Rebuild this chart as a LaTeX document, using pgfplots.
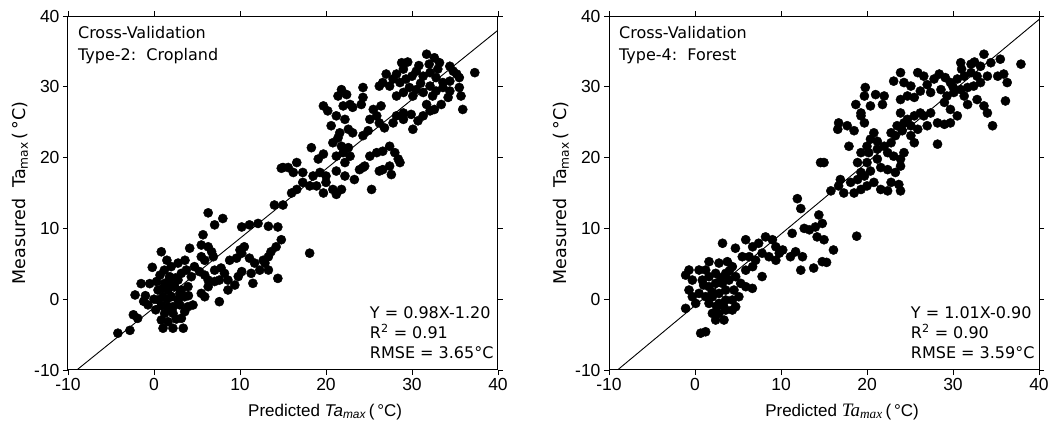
\documentclass[border=0pt]{standalone}
\usepackage{pgfplots}
\pgfplotsset{compat=1.18}
\usepackage{pgfplotstable}
\usepackage{fontspec}
\setmainfont{Liberation Sans}
\newfontfamily\seriffont{Liberation Serif}
\newfontfamily\dejavu{DejaVu Sans}

\pgfplotstableread{
x y
-4.2 -4.8
-2.8 -4.4
-2.4 -2.2
-1.9 -2.7
-2.2 0.6
-1.5 2.2
-0.5 2.2
-0.7 -0.8
0.5 -0.1
0.7 3.4
1.2 4.1
2.0 4.6
2.8 5.1
3.6 5.5
0.47 1.29
1.24 2.24
1.63 1.29
1.05 0.35
2.02 0.35
2.40 1.77
2.79 2.71
3.18 3.65
1.82 3.18
2.21 -1.06
1.63 -1.06
2.79 -0.12
3.57 0.35
3.18 1.29
3.95 1.77
4.34 3.18
3.76 4.12
1.24 -2.0
2.21 -2.0
0.85 -2.94
1.63 -3.18
3.18 -2.7
3.95 -1.06
4.53 -0.82
3.57 -1.76
1.05 -4.1
2.2 -4.1
3.4 -4.1
0.85 6.7
4.15 7.2
5.5 7.65
6.3 7.4
6.7 6.7
5.5 6.0
5.9 5.5
6.9 6.0
5.7 9.1
6.3 12.2
7.05 10.5
8.0 11.4
4.7 4.6
5.3 3.9
5.9 3.4
6.3 2.7
7.05 4.1
7.8 4.4
8.2 3.65
7.05 2.5
6.3 1.77
5.5 0.82
5.9 0.35
7.6 2.7
8.6 2.7
7.6 -0.35
8.6 1.3
9.4 2.0
9.8 3.2
10.2 3.9
8.8 5.5
9.6 5.8
10.2 10.2
11.1 10.5
12.1 10.7
13.3 10.3
14.4 10.2
10.0 6.95
10.5 7.4
10.2 6.5
11.1 5.8
11.7 5.1
12.3 4.1
12.9 5.1
13.3 6.0
13.6 6.7
14.2 7.4
14.8 8.4
15.0 13.3
14.0 13.3
11.3 3.65
11.5 2.24
13.3 4.12
14.4 2.94
12.7 5.5
0.0 0.0
0.3 2.5
1.5 0.0
2.5 3.0
1.0 1.5
2.0 2.0
3.0 0.8
0.2 -1.5
-1.0 0.5
-0.2 4.5
1.5 5.5
3.0 -0.8
4.0 0.5
2.6 -2.8
0.9 -0.9
2.0 -1.5
1.8 2.8
-1.2 -0.3
18.1 6.5
14.8 18.5
31.7 34.6
32.6 34.1
33.2 33.4
28.8 33.4
29.0 32.5
30.5 32.2
28.2 31.8
26.6 30.6
26.2 30.1
27.4 30.1
27.8 31.1
28.6 30.6
29.3 31.1
29.7 29.9
29.0 29.2
28.2 28.7
31.3 31.5
32.1 32.0
32.8 31.3
33.6 30.6
34.4 30.8
35.2 31.8
34.4 32.9
34.8 32.2
35.5 31.3
37.3 32.0
32.1 30.1
32.8 29.4
33.6 29.9
34.4 29.4
31.3 29.2
32.4 28.7
30.5 29.6
30.1 28.7
35.5 29.9
35.7 28.7
34.2 28.5
33.4 27.5
32.6 26.8
32.1 26.6
31.3 25.9
30.7 25.2
30.1 24.0
35.9 26.8
31.7 27.5
29.9 26.1
29.0 25.4
24.3 29.9
21.8 29.6
21.4 28.7
22.4 28.9
22.8 27.5
19.7 27.3
20.2 26.6
22.0 27.3
23.1 27.1
24.1 27.5
24.3 28.5
21.2 25.9
22.2 25.4
20.6 24.5
21.6 23.5
22.6 24.0
23.1 23.5
25.5 26.8
26.4 27.3
25.9 25.9
25.1 25.4
26.2 24.9
26.8 24.2
24.9 23.8
24.3 23.1
28.2 25.9
29.0 26.3
27.8 24.9
21.4 22.8
20.8 22.1
21.8 21.6
22.6 21.4
22.0 20.7
21.2 20.2
22.8 20.2
22.2 19.3
18.3 21.4
19.1 19.8
19.7 20.5
16.6 19.3
15.6 18.6
16.2 17.9
17.3 17.9
18.5 17.4
19.3 17.9
20.0 17.4
21.2 18.1
22.2 17.4
17.3 16.5
18.1 16.0
16.6 15.5
16.0 15.0
18.9 16.0
20.0 16.5
20.8 15.5
21.8 15.5
19.7 15.0
21.2 14.8
23.3 16.9
23.9 18.3
24.5 18.8
25.1 20.2
25.9 20.7
26.6 20.9
27.4 21.6
28.0 20.7
28.4 19.8
28.6 19.3
27.4 18.8
26.6 18.3
26.2 18.1
27.6 17.6
25.3 15.5
24.3 18.6
15.0 18.6
30.0 31.5
31.0 30.5
30.8 33.0
33.0 32.5
29.5 33.5
27.0 31.8
32.0 33.2
}\cropdata

\pgfplotstableread{
x y
33.6 34.6
30.9 33.4
32.1 33.2
33.2 32.9
34.4 33.4
35.5 33.9
37.9 33.2
36.3 30.6
35.2 31.5
35.9 31.8
36.1 28.0
34.6 24.5
34.0 26.3
33.6 27.3
32.8 28.2
31.7 27.5
31.3 28.7
29.7 30.6
30.5 31.1
31.3 31.5
32.1 32.0
32.8 31.5
33.2 30.6
32.4 30.1
31.7 29.9
30.9 29.6
30.1 29.2
29.3 28.7
28.6 29.6
29.1 31.3
28.4 31.8
27.8 31.1
26.6 31.5
25.9 32.0
27.0 30.3
26.2 29.4
27.4 29.2
29.0 27.8
29.7 26.8
30.5 25.9
23.9 32.0
23.1 30.8
24.3 30.6
25.1 30.1
24.7 28.7
23.9 28.2
25.5 28.5
19.8 29.9
19.7 28.7
21.0 28.9
22.0 28.7
21.8 27.5
20.4 27.3
19.3 26.3
18.7 27.5
19.3 25.9
16.7 24.9
16.6 24.0
17.7 24.5
18.5 23.8
19.7 24.9
23.9 26.3
24.7 25.4
25.5 25.9
26.2 26.3
26.6 25.9
27.4 26.3
28.2 24.9
27.0 24.5
25.9 24.0
25.1 24.5
24.3 24.9
23.5 24.5
24.1 23.8
25.1 23.1
23.3 23.1
22.8 23.5
29.0 24.7
29.7 24.9
28.2 21.9
25.5 22.1
24.3 20.7
20.8 23.5
20.4 22.6
21.2 22.3
20.0 21.6
19.3 20.7
20.2 20.7
21.2 21.2
22.0 21.6
22.8 22.1
22.4 20.7
23.1 20.2
23.9 19.8
17.9 21.6
18.9 19.3
20.0 19.3
21.2 19.8
21.6 18.6
20.4 18.1
19.3 17.9
22.4 18.3
23.3 17.9
23.9 18.8
15.0 19.3
14.6 19.3
16.9 16.9
16.7 16.0
18.1 16.5
18.9 16.9
19.7 17.4
20.0 16.0
19.3 15.5
18.5 15.0
20.8 16.5
21.6 15.5
22.8 16.5
22.4 15.3
23.7 16.2
23.9 15.3
15.8 15.3
17.3 15.0
11.9 14.2
12.3 12.8
14.4 11.9
14.8 10.7
14.0 10.2
13.3 9.8
12.7 10.0
11.3 9.3
11.1 6.0
11.7 6.7
12.5 6.0
12.3 4.1
13.8 4.4
14.8 5.3
15.0 8.4
14.2 8.8
16.1 6.95
15.3 5.2
18.8 8.9
3.2 7.9
4.7 7.2
5.9 8.4
6.7 7.4
7.4 7.9
8.2 8.8
9.0 8.4
9.4 7.4
9.8 6.5
10.2 6.95
8.6 6.0
9.4 5.5
7.8 6.5
7.05 5.5
6.3 6.0
5.5 6.0
6.7 4.6
7.8 3.2
5.9 4.1
1.63 5.3
2.79 5.1
3.76 5.3
4.34 4.6
3.57 3.65
2.4 3.65
1.63 3.18
1.24 4.12
0.47 4.12
-0.7 4.12
-1.09 3.4
-0.31 2.7
0.85 2.7
1.63 1.77
2.4 2.24
3.18 2.24
3.95 2.7
4.73 3.18
5.31 2.24
5.9 1.77
6.67 1.53
4.53 1.29
3.57 1.29
2.79 0.82
2.02 0.35
1.24 0.35
0.47 0.82
-0.31 0.35
-0.7 1.29
0.08 -0.59
1.63 -0.59
2.79 -0.59
3.57 -0.12
4.34 -0.12
5.1 0.35
4.73 -1.06
3.57 -1.53
2.79 -2.0
2.02 -2.0
2.4 -2.94
3.37 -2.94
4.34 -1.53
-1.09 -1.3
0.66 -4.8
1.24 -4.6
2.0 1.0
3.0 3.0
1.0 2.0
4.0 4.0
2.5 -1.0
3.3 -0.9
31.0 32.5
32.5 33.5
30.0 30.0
34.0 31.5
}\forestdata

\pgfplotsset{
  panel/.style={
    anchor=south west,
    scale only axis,
    width=430pt, height=354pt,
    xmin=-10, xmax=40, ymin=-10, ymax=40,
    xtick={-10,0,10,20,30,40},
    ytick={-10,0,10,20,30,40},
    tick align=outside,
    major tick length=5pt,
    tick style={black, line width=0.8pt},
    axis line style={black, line width=1pt},
    /pgf/number format/assume math mode=true,
    ticklabel style={font=\fontsize{17.5}{19}\selectfont},
    label style={font=\fontsize{17}{20}\selectfont},
    ylabel style={at={([xshift=-48pt]axis description cs:0,0.5)}, anchor=center,
                  font=\dejavu\fontsize{17.5}{20}\selectfont},
    ylabel={Measured\ \ Ta\textsubscript{max}\,(\,°C)},
  },
}

\begin{document}
\begin{tikzpicture}[x=1pt,y=1pt]
\path[use as bounding box] (0,0) rectangle (1053,426);

\begin{axis}[panel, at={(68pt,56pt)},
  xlabel style={at={([yshift=-46pt]axis description cs:0.598,0)}, anchor=base},
  xlabel={Predicted \textit{Ta\textsubscript{max}}\,(\,°C)}]
\addplot[only marks, mark=*, mark size=4.6pt, black] table[x=x,y=y] {\cropdata};
\addplot[black, line width=0.9pt] coordinates {(-8.98,-10) (40,38)};
\node[anchor=north west, align=left, inner sep=0pt, font=\dejavu\fontsize{16}{21.5}\selectfont]
  at (rel axis cs:0.023,0.97) {Cross-Validation\\Type-2:\ \ Cropland};
\node[anchor=south east, align=left, inner sep=0pt, font=\dejavu\fontsize{16}{20}\selectfont]
  at (rel axis cs:0.99,0.03) {Y = 0.98X-1.20\\R\textsuperscript{2} = 0.91\\RMSE = 3.65°C};
\end{axis}

\begin{axis}[panel, at={(609pt,56pt)},
  xlabel style={at={([yshift=-46pt]axis description cs:0.542,0)}, anchor=base},
  xlabel={Predicted {\seriffont\itshape\fontsize{19}{20}\selectfont Ta\textsubscript{max}}\,(\,°C)}]
\addplot[only marks, mark=*, mark size=4.6pt, black] table[x=x,y=y] {\forestdata};
\addplot[black, line width=0.9pt] coordinates {(-9.01,-10) (40,39.5)};
\node[anchor=north west, align=left, inner sep=0pt, font=\dejavu\fontsize{16}{21.5}\selectfont]
  at (rel axis cs:0.023,0.97) {Cross-Validation\\Type-4:\ \ Forest};
\node[anchor=south east, align=left, inner sep=0pt, font=\dejavu\fontsize{16}{20}\selectfont]
  at (rel axis cs:0.99,0.03) {Y = 1.01X-0.90\\R\textsuperscript{2} = 0.90\\RMSE = 3.59°C};
\end{axis}
\end{tikzpicture}
\end{document}
